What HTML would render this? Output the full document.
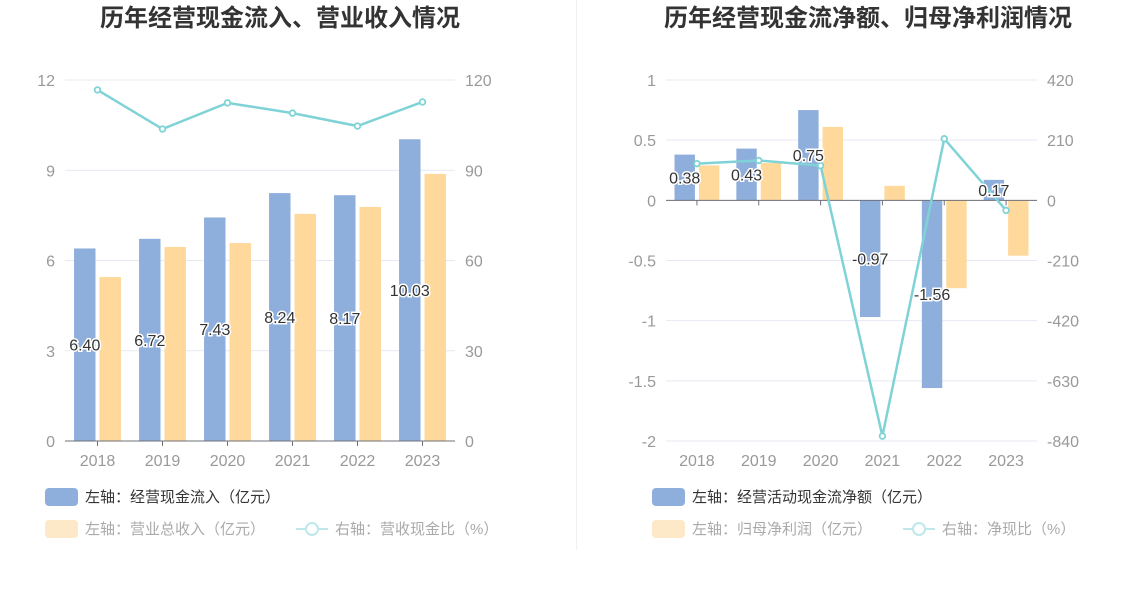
<!DOCTYPE html>
<html><head><meta charset="utf-8">
<style>
body{margin:0;background:#fff;width:1148px;height:589px;overflow:hidden;font-family:"Liberation Sans","Noto Sans CJK SC",sans-serif;}
svg text{font-family:"Liberation Sans","Noto Sans CJK SC",sans-serif;}
</style></head>
<body>
<svg id="svg" width="1148" height="589" xmlns="http://www.w3.org/2000/svg">
<line x1="576.5" y1="0" x2="576.5" y2="550" stroke="#f0f0f0"/>
<text x="280" y="26" text-anchor="middle" font-size="24" font-weight="bold" fill="#333">历年经营现金流入、营业收入情况</text>
<text x="868" y="26" text-anchor="middle" font-size="24" font-weight="bold" fill="#333">历年经营现金流净额、归母净利润情况</text>
<g id="g"></g>
<rect x="45" y="488" width="33" height="18" rx="4" fill="#8eaedb"/>
<text x="85" y="502" font-size="15" fill="#333">左轴：经营现金流入（亿元）</text>
<rect x="45" y="520" width="33" height="18" rx="4" fill="#fde9c8"/>
<text x="85" y="534" font-size="15" fill="#aaa">左轴：营业总收入（亿元）</text>
<line x1="296" y1="529" x2="328" y2="529" stroke="#bfe8ea" stroke-width="2"/>
<circle cx="312" cy="529" r="6" fill="#fff" stroke="#bfe8ea" stroke-width="2"/>
<text x="335" y="534" font-size="15" fill="#aaa">右轴：营收现金比（%）</text>
<rect x="652" y="488" width="33" height="18" rx="4" fill="#8eaedb"/>
<text x="692" y="502" font-size="15" fill="#333">左轴：经营活动现金流净额（亿元）</text>
<rect x="652" y="520" width="33" height="18" rx="4" fill="#fde9c8"/>
<text x="692" y="534" font-size="15" fill="#aaa">左轴：归母净利润（亿元）</text>
<line x1="903" y1="529" x2="935" y2="529" stroke="#bfe8ea" stroke-width="2"/>
<circle cx="919" cy="529" r="6" fill="#fff" stroke="#bfe8ea" stroke-width="2"/>
<text x="942" y="534" font-size="15" fill="#aaa">右轴：净现比（%）</text>
</svg>
<script>
const years=["2018","2019","2020","2021","2022","2023"];
const cashInflow=[6.40,6.72,7.43,8.24,8.17,10.03];
const revenue=[5.45,6.45,6.58,7.55,7.78,8.88];
const cashRatio=[116.7,103.7,112.4,109,104.7,112.7];
const leftTicks=[0,3,6,9,12];
const leftRightTicks=[0,30,60,90,120];
const netCash=[0.38,0.43,0.75,-0.97,-1.56,0.17];
const netProfit=[0.29,0.31,0.61,0.12,-0.73,-0.46];
const netRatio=[128,139,121,-823,215,-35];
const rLeftTicks=[-2,-1.5,-1,-0.5,0,0.5,1];
const rRightTicks=[-840,-630,-420,-210,0,210,420];

const NS="http://www.w3.org/2000/svg";
const g=document.getElementById('g');
function el(t,a,txt){const e=document.createElementNS(NS,t);for(const k in a)e.setAttribute(k,a[k]);if(txt!==undefined)e.textContent=txt;g.appendChild(e);return e;}

function chart(o){
  const bw=(o.x1-o.x0)/years.length;
  const yL=v=>o.yTop+(o.lMax-v)/(o.lMax-o.lMin)*(o.yBot-o.yTop);
  const yR=v=>o.yTop+(o.rMax-v)/(o.rMax-o.rMin)*(o.yBot-o.yTop);
  const xc=i=>o.x0+bw*(i+0.5);
  o.lt.forEach((t,i)=>{
    const y=yL(t);
    const gl=el('line',{x1:o.x0,x2:o.x1,y1:y,y2:y,stroke:'#e6e9f2'});
    
    
    const lt=el('text',{x:o.x0-10,y:y+6,'text-anchor':'end','font-size':16,fill:'#999'},String(t));
    
    
    const rt=el('text',{x:o.x1+10,y:yR(o.rt[i])+6,'font-size':16,fill:'#999'},String(o.rt[i]));
    
    
  });
  const y0=yL(0);
  const bwid=bw*0.33;
  years.forEach((yr,i)=>{
    const c=xc(i);
    const a=o.s1[i],b=o.s2[i];
    const r1=el('rect',{x:c-bwid-2,y:Math.min(yL(a),y0),width:bwid,height:Math.abs(yL(a)-y0),fill:'#8eaedb'});
    
    
    const r2=el('rect',{x:c+2,y:Math.min(yL(b),y0),width:bwid,height:Math.abs(yL(b)-y0),fill:'#fed99b'});
    
    
    const xl=el('text',{x:c,y:o.yBot+25,'text-anchor':'middle','font-size':16,fill:'#999'},yr);
    
    
    const tk=el('line',{x1:c,x2:c,y1:y0,y2:y0+5,stroke:'#6e7079'});
    
    
  });
  const ax=el('line',{x1:o.x0,x2:o.x1,y1:y0,y2:y0,stroke:'#6e7079'});
  
  
  const pts=o.line.map((v,i)=>xc(i)+','+yR(v)).join(' ');
  const pl=el('polyline',{points:pts,fill:'none',stroke:'#7fd3d6','stroke-width':2.5});
  
  
  o.line.forEach((v,i)=>{
    const cc=el('circle',{cx:xc(i),cy:yR(v),r:2.8,fill:'#fff',stroke:'#7fd3d6','stroke-width':1.8});
    
    
  });
  o.s1.forEach((v,i)=>{
    const ly=(yL(v)+y0)/2;
    const t=el('text',{x:xc(i)-bwid/2-2,y:ly+6,'text-anchor':'middle','font-size':16,fill:'#333',stroke:'#fff','stroke-width':3,'paint-order':'stroke'},v.toFixed(2));
    
    
  });
}
chart({x0:65,x1:455,yTop:80,yBot:441,lMin:0,lMax:12,rMin:0,rMax:120,lt:leftTicks,rt:leftRightTicks,s1:cashInflow,s2:revenue,line:cashRatio});
chart({x0:666,x1:1037,yTop:80,yBot:441,lMin:-2,lMax:1,rMin:-840,rMax:420,lt:rLeftTicks,rt:rRightTicks,s1:netCash,s2:netProfit,line:netRatio});
</script>
</body></html>
